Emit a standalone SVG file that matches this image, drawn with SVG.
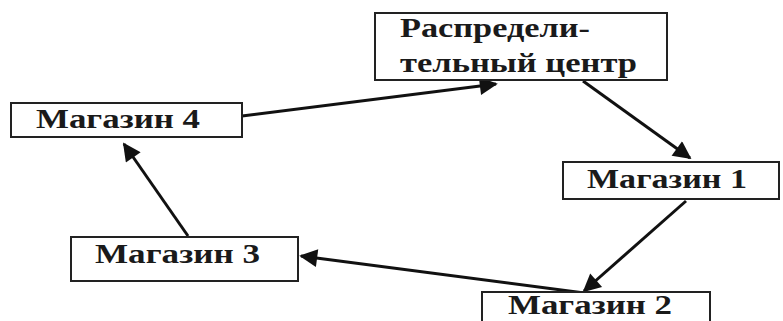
<svg xmlns="http://www.w3.org/2000/svg" width="783" height="321" viewBox="0 0 783 321">
<style>
.box{fill:#fff;stroke:#222;stroke-width:2}
.t{font-family:"Liberation Serif","Times New Roman",serif;font-weight:bold;font-size:27px;fill:#1a1a1a}
.c{stroke:#111;stroke-width:3;fill:none}
</style>
<defs>
<marker id="ah" viewBox="0 0 10 10" refX="9" refY="5" markerWidth="7" markerHeight="6" markerUnits="strokeWidth" orient="auto">
<path d="M0,0 L10,5 L0,10 Z" fill="#111"/>
</marker>
</defs>
<rect width="783" height="321" fill="#fff"/>
<g id="connectors">
<line class="c" x1="242" y1="116" x2="496" y2="84" marker-end="url(#ah)"/>
<line class="c" x1="583" y1="81" x2="690" y2="158" marker-end="url(#ah)"/>
<line class="c" x1="686" y1="201" x2="584" y2="291" marker-end="url(#ah)"/>
<line class="c" x1="592" y1="294" x2="301" y2="256" marker-end="url(#ah)"/>
<line class="c" x1="188" y1="236" x2="124" y2="144" marker-end="url(#ah)"/>
</g>
<g id="center">
<rect class="box" x="375" y="13" width="292" height="67"/>
<text class="t" x="400" y="37" textLength="190" lengthAdjust="spacingAndGlyphs">Распредели-</text>
<text class="t" x="400" y="72" textLength="237" lengthAdjust="spacingAndGlyphs">тельный центр</text>
</g>
<g id="store4">
<rect class="box" x="11" y="103" width="231" height="34"/>
<text class="t" x="36" y="128" textLength="164" lengthAdjust="spacingAndGlyphs">Магазин 4</text>
</g>
<g id="store1">
<rect class="box" x="563" y="162" width="216" height="37"/>
<text class="t" x="587" y="188" textLength="160" lengthAdjust="spacingAndGlyphs">Магазин 1</text>
</g>
<g id="store3">
<rect class="box" x="71" y="237" width="227" height="44"/>
<text class="t" x="95" y="263" textLength="165" lengthAdjust="spacingAndGlyphs">Магазин 3</text>
</g>
<g id="store2">
<rect class="box" x="482" y="292" width="228" height="40"/>
<text class="t" x="508" y="314" font-size="23" textLength="164" lengthAdjust="spacingAndGlyphs">Магазин 2</text>
</g>
</svg>
